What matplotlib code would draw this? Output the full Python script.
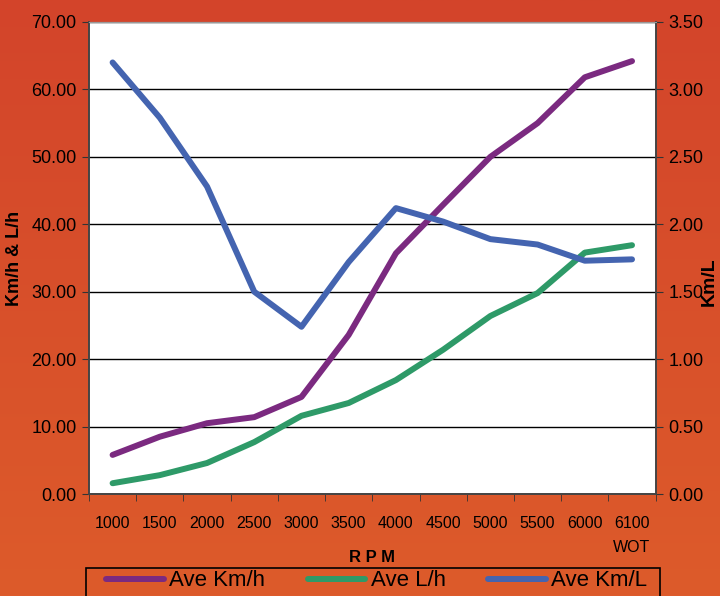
import numpy as np
import matplotlib.pyplot as plt
from matplotlib.colors import LinearSegmentedColormap
from matplotlib.patches import Rectangle

# 数据
rpm = ['1000', '1500', '2000', '2500', '3000', '3500', '4000', '4500',
       '5000', '5500', '6000', '6100\nWOT']
ave_kmh = [5.8, 8.5, 10.5, 11.4, 14.4, 23.6, 35.7, 42.9, 50.0, 55.0, 61.8, 64.2]
ave_lh = [1.6, 2.8, 4.6, 7.7, 11.6, 13.5, 16.9, 21.4, 26.4, 29.8, 35.8, 36.9]
ave_kml = [3.20, 2.79, 2.28, 1.50, 1.24, 1.72, 2.12, 2.02, 1.89, 1.85, 1.73, 1.74]

plt.rcParams['font.family'] = ['Liberation Sans', 'DejaVu Sans']

fig = plt.figure(figsize=(7.2, 5.96), dpi=100)

# 背景渐变
bg = fig.add_axes([0, 0, 1, 1], zorder=-10)
cmap = LinearSegmentedColormap.from_list('bg', ['#D3442A', '#DD5B2B'])
bg.imshow(np.linspace(0, 1, 256).reshape(-1, 1), aspect='auto', cmap=cmap,
          extent=[0, 1, 0, 1])
bg.set_axis_off()

ax1 = fig.add_axes([0.1236, 0.1711, 0.787, 0.792])
ax1.set_facecolor('white')
x = np.arange(len(rpm))

ax1.plot(x, ave_kmh, color='#7B2A80', lw=4.3, solid_capstyle='round', label='Ave Km/h', zorder=3)
ax1.plot(x, ave_lh, color='#2E9A68', lw=4.3, solid_capstyle='round', label='Ave L/h', zorder=3)
ax1.set_ylim(0, 70)
ax1.set_yticks(np.arange(0, 71, 10))
ax1.set_yticklabels(['%.2f' % v for v in np.arange(0, 71, 10)], fontsize=13)
ax1.set_xlim(-0.5, len(rpm) - 0.5)
ax1.set_xticks(x)
ax1.set_xticklabels(rpm, fontsize=11.5, linespacing=1.75)
ax1.set_xticks(np.arange(-0.5, len(rpm), 1), minor=True)
ax1.tick_params(axis='x', which='major', length=0, pad=16)
ax1.tick_params(axis='x', which='minor', length=5, direction='out', color='#333333')
ax1.tick_params(axis='y', length=5, direction='out', color='#333333', pad=4)
ax1.grid(axis='y', color='black', lw=1)
ax1.set_axisbelow(True)

ax2 = ax1.twinx()
ax2.plot(x, ave_kml, color='#4464B0', lw=4.3, solid_capstyle='round', label='Ave Km/L', zorder=3)
ax2.set_ylim(0, 3.5)
ax2.set_yticks(np.arange(0, 3.51, 0.5))
ax2.set_yticklabels(['%.2f' % v for v in np.arange(0, 3.51, 0.5)], fontsize=13)
ax2.tick_params(axis='y', length=5, direction='out', color='#333333', pad=4)

for a in (ax1, ax2):
    for s in ('left', 'right', 'bottom'):
        a.spines[s].set_color('#444444')
        a.spines[s].set_linewidth(1.2)
    a.spines['top'].set_color('#999999')

# 轴标题
fig.text(15 / 720, 1 - 258 / 596, 'Km/h & L/h', rotation=90, fontsize=13,
         fontweight='bold', ha='center', va='center')
fig.text(709 / 720, 1 - 282 / 596, 'Km/L', rotation=90, fontsize=14,
         fontweight='bold', ha='center', va='center')
fig.text(372 / 720, 1 - 557 / 596, 'R P M', fontsize=12, fontweight='bold',
         ha='center', va='center')

# 图例（外框单独画）
fig.patches.append(Rectangle((86 / 720, -0.02), 574 / 720, 0.02 + 1 - 568 / 596,
                             transform=fig.transFigure, fill=False,
                             edgecolor='black', lw=1.2))
lines, labels = ax1.get_legend_handles_labels()
lines2, labels2 = ax2.get_legend_handles_labels()
leg = fig.legend(lines + lines2, labels + labels2, loc='center left', ncol=3,
                 bbox_to_anchor=(106 / 720, 1 - 581 / 596), fontsize=16,
                 frameon=False, handlelength=2.6, borderpad=0,
                 handletextpad=0.25, columnspacing=1.9, borderaxespad=0)

plt.savefig('out.png', dpi=100)
